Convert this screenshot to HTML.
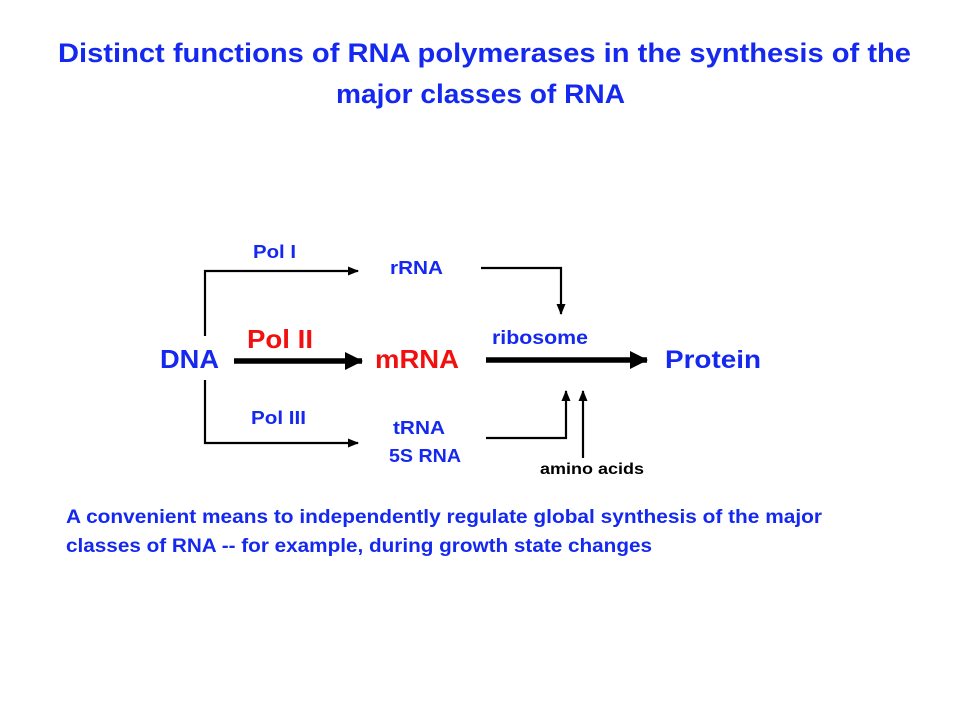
<!DOCTYPE html>
<html><head><meta charset="utf-8"><style>
html,body{margin:0;padding:0;background:#fff;width:960px;height:720px;overflow:hidden}
text{font-family:"Liberation Sans",sans-serif;font-weight:bold}
</style></head><body>
<svg width="960" height="720" xmlns="http://www.w3.org/2000/svg">
<defs>
<marker id="s" markerWidth="11" markerHeight="9" refX="10" refY="4.5" orient="auto" markerUnits="userSpaceOnUse"><path d="M0,0 L11,4.5 L0,9z" fill="#000"/></marker>
<marker id="b" markerWidth="18" markerHeight="18" refX="17" refY="9" orient="auto" markerUnits="userSpaceOnUse"><path d="M0,0 L18,9 L0,18z" fill="#000"/></marker>
</defs>
<g fill="#1428f0">
<text x="58" y="62" font-size="27" textLength="853" lengthAdjust="spacingAndGlyphs">Distinct functions of RNA  polymerases  in the synthesis of the</text>
<text x="336" y="103" font-size="27" textLength="289" lengthAdjust="spacingAndGlyphs">major classes of RNA</text>
<text x="253" y="258" font-size="18" textLength="43" lengthAdjust="spacingAndGlyphs">Pol I</text>
<text x="390" y="274" font-size="18" textLength="53" lengthAdjust="spacingAndGlyphs">rRNA</text>
<text x="160" y="368" font-size="26" textLength="59" lengthAdjust="spacingAndGlyphs">DNA</text>
<text x="492" y="344" font-size="19" textLength="96" lengthAdjust="spacingAndGlyphs">ribosome</text>
<text x="665" y="368" font-size="25" textLength="96" lengthAdjust="spacingAndGlyphs">Protein</text>
<text x="251" y="424" font-size="18" textLength="55" lengthAdjust="spacingAndGlyphs">Pol III</text>
<text x="393" y="434" font-size="18" textLength="52" lengthAdjust="spacingAndGlyphs">tRNA</text>
<text x="389" y="462" font-size="18" textLength="72" lengthAdjust="spacingAndGlyphs">5S RNA</text>
<text x="66" y="523" font-size="19" textLength="756" lengthAdjust="spacingAndGlyphs">A convenient means to independently regulate global synthesis of the major</text>
<text x="66" y="552" font-size="19" textLength="586" lengthAdjust="spacingAndGlyphs">classes of RNA  -- for example, during growth state changes</text>
</g>
<g fill="#f01010">
<text x="247" y="348" font-size="26" textLength="66" lengthAdjust="spacingAndGlyphs">Pol II</text>
<text x="375" y="368" font-size="26" textLength="84" lengthAdjust="spacingAndGlyphs">mRNA</text>
</g>
<text x="540" y="474" font-size="16" fill="#000" textLength="104" lengthAdjust="spacingAndGlyphs">amino  acids</text>
<g stroke="#000" fill="none" stroke-width="2.2">
<polyline points="205,336 205,271 358,271" marker-end="url(#s)"/>
<polyline points="205,380 205,443 358,443" marker-end="url(#s)"/>
<polyline points="481,268 561,268 561,314" marker-end="url(#s)"/>
<polyline points="486,438 566,438 566,391" marker-end="url(#s)"/>
<line x1="583" y1="458" x2="583" y2="391" marker-end="url(#s)"/>
<line x1="234" y1="361" x2="362" y2="361" stroke-width="5.5" marker-end="url(#b)"/>
<line x1="486" y1="360" x2="647" y2="360" stroke-width="5.5" marker-end="url(#b)"/>
</g>
</svg>
</body></html>
